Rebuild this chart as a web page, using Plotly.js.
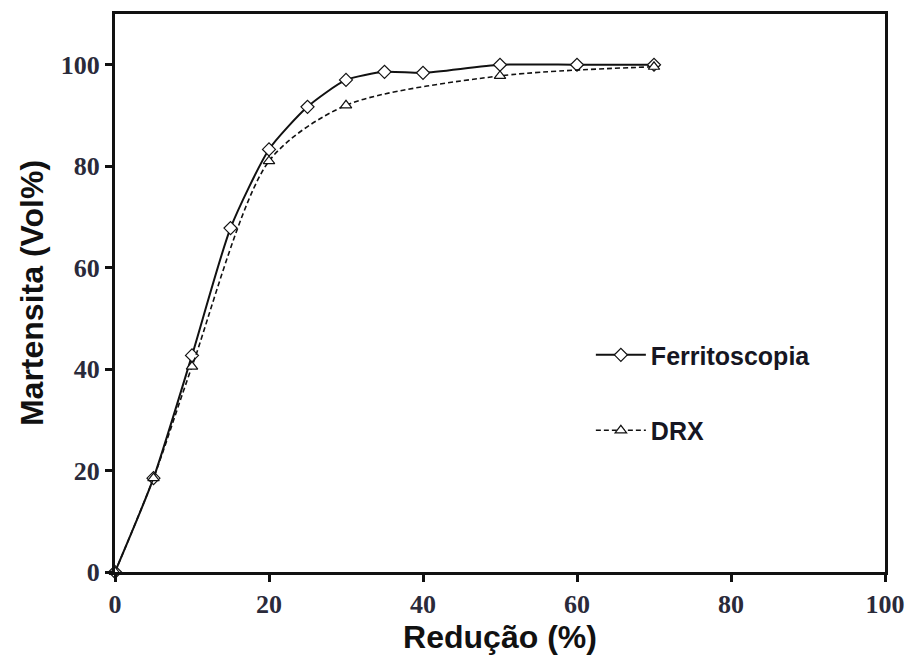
<!DOCTYPE html>
<html>
<head>
<meta charset="utf-8">
<script src="https://cdn.plot.ly/plotly-3.0.1.min.js"></script>
<style>
  html, body { margin: 0; padding: 0; background: #ffffff; }
  #chart { width: 907px; height: 657px; }
</style>
</head>
<body>
<div id="chart"></div>
<script>
// Martensite fraction vs. thickness reduction, two measurement methods
const reducaoFerrito = [0, 5, 10, 15, 20, 25, 30, 35, 40, 50, 60, 70];
const martensitaFerrito = [0, 18.5, 42.7, 67.8, 83.3, 91.7, 97, 98.6, 98.4, 100, 100, 100];

const reducaoDRX = [0, 5, 10, 20, 30, 50, 70];
const martensitaDRX = [0, 18.5, 40.5, 81, 92, 97.8, 99.6];

const xTicks = [0, 20, 40, 60, 80, 100];
const yTicks = [0, 20, 40, 60, 80, 100];

const ink = '#111111';

const traces = [
  {
    x: reducaoFerrito, y: martensitaFerrito,
    name: 'Ferritoscopia', legendgroup: 'a',
    mode: 'lines+markers', type: 'scatter',
    line: { color: ink, width: 2, shape: 'spline', smoothing: 0.6 },
    marker: { symbol: 'diamond', size: 10, color: '#ffffff', line: { color: ink, width: 1.2 } },
    cliponaxis: false
  },
  {
    x: reducaoDRX, y: martensitaDRX,
    name: 'DRX', legendgroup: 'b',
    mode: 'lines+markers', type: 'scatter',
    line: { color: ink, width: 1.6, dash: '5px,3px', shape: 'spline', smoothing: 0.8 },
    marker: { symbol: 'triangle-up', size: 10, color: '#ffffff', line: { color: ink, width: 1.2 } },
    cliponaxis: false
  }
];

const tickFont = { family: 'Liberation Serif, Times New Roman, serif', size: 26, color: '#2a2a3a', weight: 'bold' };
const titleFont = { family: 'Liberation Sans, Arial, sans-serif', size: 32, color: '#111111', weight: 'bold' };

const layout = {
  width: 907, height: 657,
  margin: { l: 115, r: 22, t: 14, b: 85 },
  paper_bgcolor: '#ffffff', plot_bgcolor: '#ffffff',
  showlegend: true,
  legend: {
    x: 0.618, y: 0.43, xanchor: 'left', yanchor: 'top',
    font: { family: 'Liberation Sans, Arial, sans-serif', size: 25, color: '#161622', weight: 'bold' },
    bgcolor: 'rgba(0,0,0,0)', traceorder: 'grouped', tracegroupgap: 40, itemwidth: 50
  },
  xaxis: {
    range: [0, 100], tickvals: xTicks, ticktext: xTicks.map(String),
    showgrid: false, zeroline: false,
    showline: true, linecolor: ink, linewidth: 3, mirror: true,
    ticks: 'outside', ticklen: 7, tickwidth: 3, tickcolor: ink,
    tickfont: tickFont,
    title: { text: 'Redução (%)', font: titleFont, standoff: 4 }
  },
  yaxis: {
    range: [0, 110], tickvals: yTicks, ticktext: yTicks.map(String),
    showgrid: false, zeroline: false,
    showline: true, linecolor: ink, linewidth: 3, mirror: true,
    ticks: 'outside', ticklen: 7, tickwidth: 3, tickcolor: ink,
    tickfont: tickFont,
    title: { text: 'Martensita (Vol%)', font: titleFont, standoff: 8 }
  }
};

Plotly.newPlot('chart', traces, layout, { displayModeBar: false, staticPlot: true });
</script>
</body>
</html>
